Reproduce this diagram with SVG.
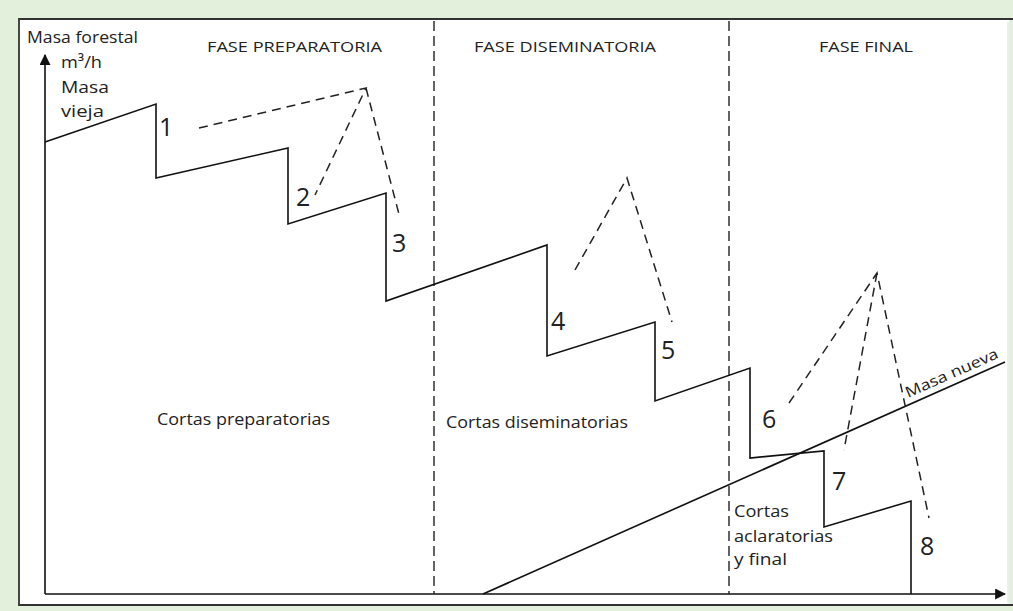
<svg xmlns="http://www.w3.org/2000/svg" width="1013" height="611" viewBox="0 0 1013 611">
  <defs>
    <style>
      .t { font-family: "Open Sans", "Noto Sans", "Liberation Sans", sans-serif; fill: #222; }
      .lbl { font-size: 15px; }
      .big { font-size: 17px; }
      .ph { font-size: 15px; }
      .num { font-size: 25px; font-family: "Open Sans", "Liberation Sans", sans-serif; fill: #222; }
      .solid { fill: none; stroke: #111; stroke-width: 1.6; stroke-linejoin: miter; }
      .dash { fill: none; stroke: #222; stroke-width: 1.5; stroke-dasharray: 9 6; }
      .vdash { fill: none; stroke: #222; stroke-width: 1.4; stroke-dasharray: 10 5; }
    </style>
    <marker id="arr" viewBox="0 0 10 10" refX="9" refY="5" markerWidth="11" markerHeight="11" markerUnits="userSpaceOnUse" orient="auto">
      <path d="M0,0 L10,5 L0,10 Z" fill="#111"/>
    </marker>
  </defs>

  <rect x="0" y="0" width="1013" height="611" fill="#e3f0db"/>
  <rect x="19" y="19" width="990" height="586" fill="#ffffff"/>
  <path d="M1013,19 L19,19 L19,605 L1013,605" fill="none" stroke="#333" stroke-width="1.8"/>
  <line x1="1008" y1="22" x2="1008" y2="603" stroke="#ddd" stroke-width="1"/>

  <g id="axes">
    <line x1="45" y1="594" x2="45" y2="55" stroke="#111" stroke-width="1.6" marker-end="url(#arr)"/>
    <line x1="45" y1="594" x2="1005" y2="594" stroke="#111" stroke-width="1.6" marker-end="url(#arr)"/>
  </g>

  <g id="phase-dividers">
    <line class="vdash" x1="434" y1="21" x2="434" y2="594"/>
    <line class="vdash" x1="729" y1="21" x2="729" y2="594"/>
  </g>

  <g id="connectors">
    <path id="masa-vieja" class="solid" d="M45,142 L156,104 L156,178 L288,148 L288,224 L386,193 L386,301 L547,245 L547,356 L655,322 L655,401 L750,368 L750,458 L824,451 L824,527 L911,501 L911,594"/>
    <path id="masa-nueva-line" class="solid" d="M483,594 L1005,362"/>
    <path id="peak1" class="dash" d="M199,128 L366,88 L315,195 M366,88 L400,218"/>
    <path id="peak2" class="dash" d="M575,270 L627,178 L672,322"/>
    <path id="peak3" class="dash" d="M789,403 L877,273 L929,518 M877,273 L844,450"/>
  </g>

  <g id="axis-labels">
    <text class="t big" x="27" y="43" textLength="111" lengthAdjust="spacingAndGlyphs">Masa forestal</text>
    <text class="t big" x="61" y="68" textLength="41" lengthAdjust="spacingAndGlyphs">m³/h</text>
    <text class="t big" x="61" y="93" textLength="48" lengthAdjust="spacingAndGlyphs">Masa</text>
    <text class="t big" x="61" y="117" textLength="43" lengthAdjust="spacingAndGlyphs">vieja</text>
  </g>

  <g id="phase-titles">
    <text class="t ph" x="207" y="52" textLength="175" lengthAdjust="spacingAndGlyphs">FASE PREPARATORIA</text>
    <text class="t ph" x="474" y="52" textLength="182" lengthAdjust="spacingAndGlyphs">FASE DISEMINATORIA</text>
    <text class="t ph" x="819" y="52" textLength="94" lengthAdjust="spacingAndGlyphs">FASE FINAL</text>
  </g>

  <g id="cut-labels">
    <text class="t big" x="157" y="425" textLength="173" lengthAdjust="spacingAndGlyphs">Cortas preparatorias</text>
    <text class="t big" x="446" y="428" textLength="182" lengthAdjust="spacingAndGlyphs">Cortas diseminatorias</text>
    <text class="t big" x="734" y="517" textLength="55" lengthAdjust="spacingAndGlyphs">Cortas</text>
    <text class="t big" x="734" y="542" textLength="99" lengthAdjust="spacingAndGlyphs">aclaratorias</text>
    <text class="t big" x="734" y="565" textLength="53" lengthAdjust="spacingAndGlyphs">y final</text>
    <text class="t lbl" x="908" y="398" transform="rotate(-23.9 908 398)" textLength="100" lengthAdjust="spacingAndGlyphs">Masa nueva</text>
  </g>

  <g id="numbers">
    <text class="num" x="159" y="136">1</text>
    <text class="num" x="296" y="206">2</text>
    <text class="num" x="392" y="252">3</text>
    <text class="num" x="551" y="330">4</text>
    <text class="num" x="661" y="359">5</text>
    <text class="num" x="762" y="428">6</text>
    <text class="num" x="832" y="490">7</text>
    <text class="num" x="920" y="555">8</text>
  </g>
</svg>
